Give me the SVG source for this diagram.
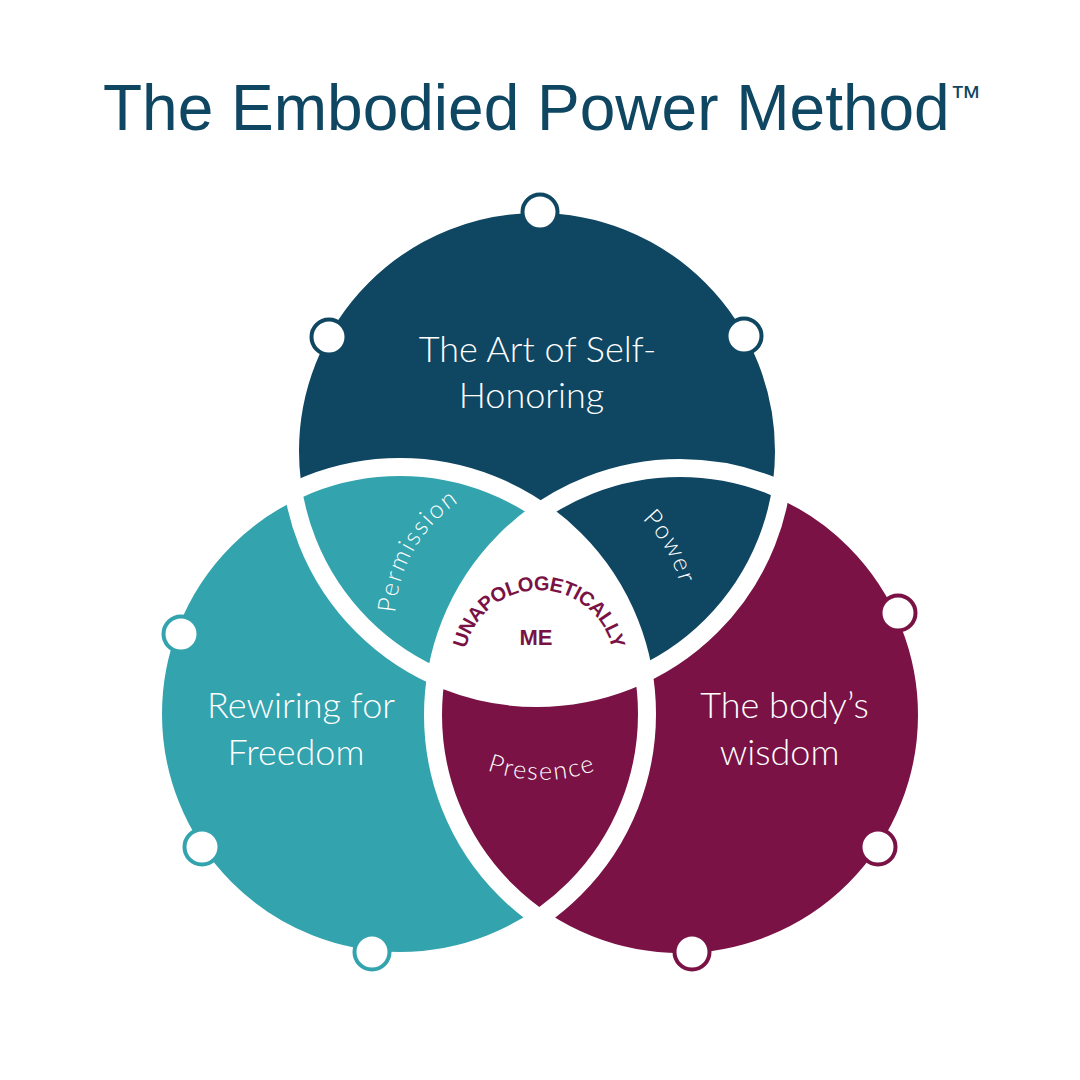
<svg xmlns="http://www.w3.org/2000/svg" width="1080" height="1080" viewBox="0 0 1080 1080">
  <style>
    .title { font-family: "Liberation Sans", Arial, sans-serif; font-size: 64px; fill: #0F4662; }
    .main { font-family: Lato, "Noto Sans", sans-serif; font-weight: 300; font-size: 36px; fill: #FFFFFF; text-anchor: middle; }
    .arc { font-family: Lato, "Noto Sans", sans-serif; font-weight: 300; font-size: 25px; fill: #FFFFFF; letter-spacing: 1.8px; }
    .core { font-family: "Liberation Sans", Arial, sans-serif; font-weight: bold; fill: #7A1245; }
    .sep { fill: none; stroke: #FFFFFF; stroke-width: 18; }
    .dot { fill: #FFFFFF; stroke-width: 4; }
  </style>
  <defs>
    <clipPath id="clipTop"><circle cx="537" cy="451" r="247"/></clipPath>
    <clipPath id="clipRight"><circle cx="680" cy="715" r="247"/></clipPath>
    <path id="pPermission" d="M414.4,694.5 A145,145 0 0 1 540,477"/>
    <path id="pPower" d="M540,477 A145,145 0 0 1 665.6,694.5"/>
    <path id="pPresence" d="M405.2,701 A158,158 0 0 0 678.8,701"/>
    <path id="pCore" d="M465.1,678 A75,75 0 1 1 612.9,678"/>
  </defs>

  <rect width="1080" height="1080" fill="#FFFFFF"/>

  <text class="title" x="103" y="130">The Embodied Power Method<tspan font-size="32" dy="-22">™</tspan></text>

  <g id="venn-regions">
    <circle cx="537" cy="451" r="247" fill="#0F4662"/>
    <circle cx="400" cy="714" r="247" fill="#33A3AE"/>
    <circle cx="680" cy="715" r="247" fill="#7A1245"/>
    <g clip-path="url(#clipTop)">
      <circle cx="680" cy="715" r="247" fill="#0F4662"/>
    </g>
    <g clip-path="url(#clipTop)">
      <g clip-path="url(#clipRight)">
        <circle cx="400" cy="714" r="247" fill="#FFFFFF"/>
      </g>
    </g>
  </g>

  <g id="separators">
    <circle class="sep" cx="537" cy="451" r="247"/>
    <circle class="sep" cx="400" cy="714" r="247"/>
    <circle class="sep" cx="680" cy="715" r="247"/>
  </g>

  <g id="node-self-honoring">
    <circle class="dot" cx="540" cy="212" r="17.5" stroke="#0F4662"/>
    <circle class="dot" cx="329" cy="337" r="17.5" stroke="#0F4662"/>
    <circle class="dot" cx="744" cy="336" r="17.5" stroke="#0F4662"/>
    <text class="main" x="537.5" y="362">The Art of Self-</text>
    <text class="main" x="531.5" y="408">Honoring</text>
  </g>

  <g id="node-rewiring">
    <circle class="dot" cx="181" cy="634" r="17.5" stroke="#33A3AE"/>
    <circle class="dot" cx="202" cy="847" r="17.5" stroke="#33A3AE"/>
    <circle class="dot" cx="372" cy="952" r="17.5" stroke="#33A3AE"/>
    <text class="main" x="301" y="718">Rewiring for</text>
    <text class="main" x="296" y="765">Freedom</text>
  </g>

  <g id="node-body-wisdom">
    <circle class="dot" cx="898" cy="613" r="17.5" stroke="#7A1245"/>
    <circle class="dot" cx="878" cy="847" r="17.5" stroke="#7A1245"/>
    <circle class="dot" cx="692" cy="952" r="17.5" stroke="#7A1245"/>
    <text class="main" x="784.5" y="718">The body’s</text>
    <text class="main" x="779.5" y="765">wisdom</text>
  </g>

  <g id="node-permission">
    <text class="arc"><textPath href="#pPermission" startOffset="50%" text-anchor="middle">Permission</textPath></text>
  </g>
  <g id="node-power">
    <text class="arc"><textPath href="#pPower" startOffset="50%" text-anchor="middle">Power</textPath></text>
  </g>
  <g id="node-presence">
    <text class="arc"><textPath href="#pPresence" startOffset="50%" text-anchor="middle">Presence</textPath></text>
  </g>
  <g id="node-center">
    <text class="core" font-size="20" letter-spacing="-0.6"><textPath href="#pCore" startOffset="50%" text-anchor="middle">UNAPOLOGETICALLY</textPath></text>
    <text class="core" font-size="22" x="536" y="645" text-anchor="middle">ME</text>
  </g>
</svg>
